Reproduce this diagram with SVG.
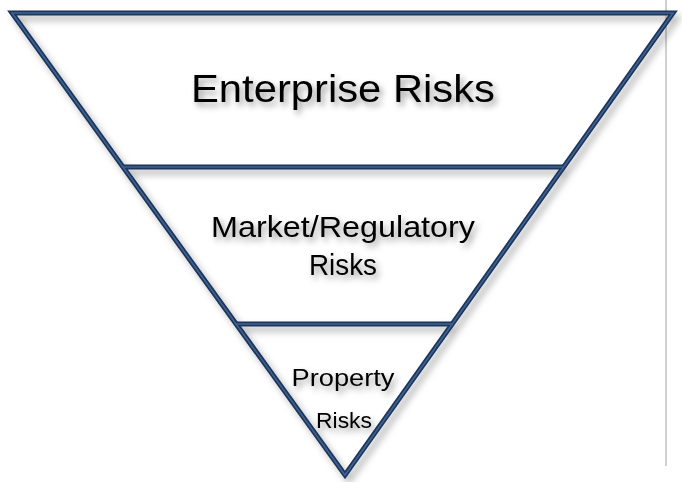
<svg xmlns="http://www.w3.org/2000/svg" width="682" height="482" viewBox="0 0 682 482">
<defs>
<filter id="shadow" x="-10%" y="-10%" width="130%" height="130%">
<feDropShadow dx="4" dy="5" stdDeviation="3.5" flood-color="#000" flood-opacity="0.3"/>
</filter>
<filter id="tshadow" x="-10%" y="-30%" width="130%" height="180%">
<feDropShadow dx="3" dy="4" stdDeviation="3" flood-color="#000" flood-opacity="0.4"/>
</filter>
</defs>
<style>
.outer{fill:none;stroke:#1d3558;stroke-width:5;stroke-linejoin:miter;stroke-linecap:butt}
.inner{fill:none;stroke:#3f6295;stroke-width:1.6;stroke-linejoin:miter}
.lbl{font-family:"Liberation Sans",Arial,sans-serif;fill:#000;text-anchor:middle}
</style>
<rect width="682" height="482" fill="#fff"/>
<line x1="666" y1="0" x2="666" y2="466" stroke="#a0a0a0" stroke-width="1"/>
<g id="pyramid-lines" filter="url(#shadow)">
<path class="outer" d="M12,13 L673,13 L345,475 Z"/>
<line class="outer" x1="122" y1="167" x2="564" y2="167"/>
<line class="outer" x1="235" y1="324" x2="453" y2="324"/>
</g>
<g id="pyramid-highlights">
<path class="inner" d="M12,13 L673,13 L345,475 Z"/>
<line class="inner" x1="122" y1="167" x2="564" y2="167"/>
<line class="inner" x1="235" y1="324" x2="453" y2="324"/>
</g>
<g id="enterprise" filter="url(#tshadow)">
<text class="lbl" x="343" y="102" font-size="38" textLength="304" lengthAdjust="spacingAndGlyphs">Enterprise Risks</text>
</g>
<g id="market" filter="url(#tshadow)">
<text class="lbl" x="343" y="237" font-size="29" textLength="264" lengthAdjust="spacingAndGlyphs">Market/Regulatory</text>
<text class="lbl" x="343" y="275" font-size="29" textLength="68" lengthAdjust="spacingAndGlyphs">Risks</text>
</g>
<g id="property" filter="url(#tshadow)">
<text class="lbl" x="343" y="386" font-size="23" textLength="103" lengthAdjust="spacingAndGlyphs">Property</text>
<text class="lbl" x="344" y="428" font-size="22" textLength="56" lengthAdjust="spacingAndGlyphs">Risks</text>
</g>
<g id="connectors"/>
</svg>
